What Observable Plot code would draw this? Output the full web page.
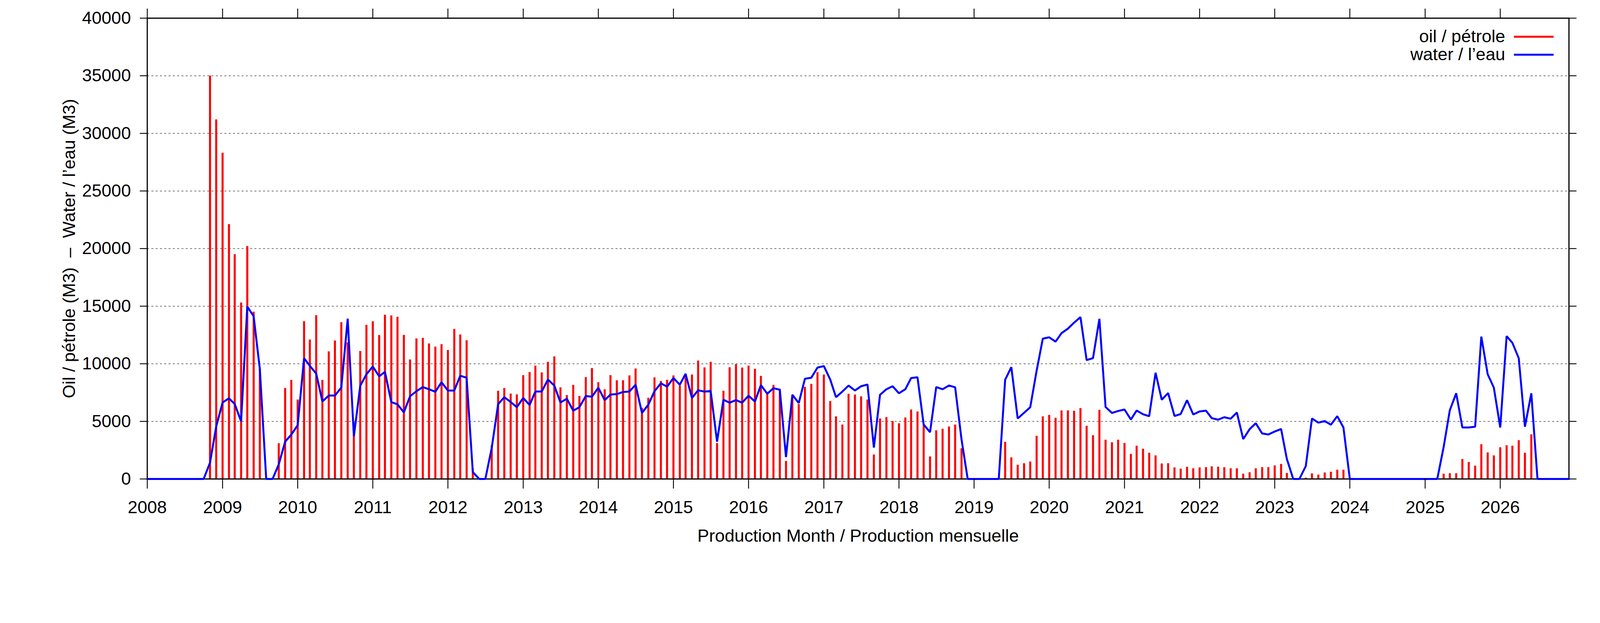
<!DOCTYPE html>
<html>
<head>
<meta charset="utf-8">
<script src="https://cdn.jsdelivr.net/npm/d3@7"></script>
<script src="https://cdn.jsdelivr.net/npm/@observablehq/plot@0.6"></script>
<style>
  html, body { margin: 0; padding: 0; background: white; overflow: hidden; }
  #chart svg { display: block; max-width: none; }
  #chart svg text { white-space: pre; }
</style>
</head>
<body>
<div id="chart"></div>
<script>
// Monthly values, starting January 2008 (12 values per row = one year)
const firstMonth = "2008-01";
const oil = [
  0,0,0,0,0,0,0,0,0,0,35000,31200,                                // 2008
  28300,22100,19500,15300,20200,14500,9550,0,0,3090,7880,8580,     // 2009
  6880,13670,12090,14210,8580,11060,12000,13600,11850,4900,11090,13360, // 2010
  13670,12480,14240,14180,14060,12490,10360,12190,12230,11750,11480,11690, // 2011
  11180,13010,12530,12030,900,0,0,2900,7640,7880,7400,7330,        // 2012
  9000,9270,9820,9240,10150,10630,7940,7270,8150,7200,8830,9610,   // 2013
  8390,7770,9000,8550,8550,8970,9580,6160,7030,8800,8490,8590,     // 2014
  8970,8110,9130,9050,10260,9670,10150,3100,7640,9690,9950,9650,   // 2015
  9820,9540,8930,7530,8150,7810,1550,7070,6490,7980,8240,9260,     // 2016
  9050,6750,5420,4710,7380,7310,7160,6880,2110,5230,5360,5020,     // 2017
  4820,5320,6010,5840,4690,1940,4210,4340,4540,4710,2650,0,        // 2018
  0,0,0,0,0,3210,1860,1220,1350,1500,3730,5420,                    // 2019
  5550,5290,5940,5940,5900,6140,4600,3780,5990,3390,3170,3390,     // 2020
  3110,2160,2870,2610,2260,2030,1330,1350,990,880,1040,910,        // 2021
  990,1010,1080,1050,1010,910,910,440,570,910,1010,1010,           // 2022
  1160,1290,510,0,0,100,470,360,550,610,790,790,                   // 2023
  0,0,0,0,0,0,0,0,0,0,0,0,                                         // 2024
  0,0,0,440,490,490,1720,1460,1140,3000,2290,2030,                 // 2025
  2740,2910,2870,3350,2260,3860,0,0,0,0,0,0                        // 2026
];
const water = [
  0,0,0,0,0,0,0,0,0,0,1420,4550,                                   // 2008
  6640,7000,6510,5000,14970,14120,9550,0,0,1270,3240,3850,         // 2009
  4670,10480,9820,9150,6730,7240,7240,7940,13910,3700,8090,9090,   // 2010
  9760,8910,9300,6670,6480,5780,7180,7620,7980,7790,7570,8400,     // 2011
  7680,7680,8960,8790,600,0,0,2700,6490,7100,6680,6230,            // 2012
  7030,6420,7590,7590,8630,8110,6640,6970,5930,6230,7200,7140,     // 2013
  7920,6840,7330,7370,7550,7590,8180,5730,6450,7620,8310,8010,     // 2014
  8760,8180,9130,7030,7700,7580,7640,3240,6880,6620,6850,6620,     // 2015
  7230,6720,8150,7400,7880,7750,1900,7310,6590,8700,8790,9670,     // 2016
  9800,8630,7100,7590,8110,7680,8050,8200,2720,7310,7790,8050,     // 2017
  7440,7790,8760,8830,4730,4060,7980,7790,8110,7960,3430,0,        // 2018
  0,0,0,0,0,8610,9710,5250,5750,6230,9400,12180,                   // 2019
  12300,11920,12660,13050,13570,14050,10320,10490,13900,6250,5730,5900, // 2020
  6030,5160,5940,5620,5450,9220,6880,7460,5470,5640,6840,5600,     // 2021
  5860,5930,5280,5150,5360,5230,5770,3460,4320,4840,3950,3860,     // 2022
  4120,4340,1740,0,0,1120,5250,4890,5030,4710,5450,4470,           // 2023
  0,0,0,0,0,0,0,0,0,0,0,0,                                         // 2024
  0,0,0,2780,5970,7440,4470,4470,4540,12360,9090,7920,             // 2025
  4470,12400,11820,10480,4540,7440,0,0,0,0,0,0                     // 2026
];
const yearTicks = [2008,2009,2010,2011,2012,2013,2014,2015,2016,2017,2018,2019,2020,2021,2022,2023,2024,2025,2026];
const yTicks = [0,5000,10000,15000,20000,25000,30000,35000,40000];
const gridTicks = [5000,10000,15000,20000,25000,30000,35000];
const seriesNames = ["oil / pétrole", "water / l’eau"];
const seriesColors = ["#ff0000", "#0000ff"];
const xLabel = "Production Month / Production mensuelle";
const yLabel = "Oil / pétrole (M3)  –  Water / l’eau (M3)";

const start = d3.utcParse("%Y-%m")(firstMonth);
const rows = oil.map((o, i) => ({date: d3.utcMonth.offset(start, i), oil: o, water: water[i]}));
const xTickDates = yearTicks.map(y => new Date(Date.UTC(y, 0, 1)));

// Layout measured on the 5483×1594 reference, scaled to the actual viewport
const REF_W = 5483, REF_H = 1594;
const W = window.innerWidth || REF_W, H = window.innerHeight || REF_H;
const sx = W / REF_W, sy = H / REF_H, s = Math.min(sx, sy);
const mL = 504 * sx, mR = 107 * sx, mT = 46 * sy, mB = 369 * sy;
const fs = 45 * sy;
const font = "'Liberation Sans', Arial, Helvetica, sans-serif";

const chart = Plot.plot({
  width: W,
  height: H,
  marginLeft: mL,
  marginRight: mR,
  marginTop: mT,
  marginBottom: mB,
  style: {fontFamily: font, fontSize: fs + "px", color: "black", background: "white", overflow: "visible"},
  x: {type: "utc", domain: [new Date(Date.UTC(2008,0,1)), new Date(Date.UTC(2026,11,1))]},
  y: {domain: [0, 40000]},
  marks: [
    Plot.gridY(gridTicks, {stroke: "#333", strokeOpacity: 0.9, strokeWidth: 1.5, strokeDasharray: "5,6"}),
    Plot.ruleX(rows.filter(d => d.oil > 0), {x: "date", y1: 0, y2: "oil", stroke: seriesColors[0], strokeWidth: 7 * sx}),
    Plot.frame({stroke: "black", strokeWidth: 4 * s}),
    Plot.line(rows, {x: "date", y: "water", stroke: seriesColors[1], strokeWidth: 5 * sy, strokeLinejoin: "miter"}),
    Plot.axisY(yTicks, {anchor: "left", tickSize: 25 * sx, tickPadding: 31 * sx, strokeWidth: 3 * s, fontSize: fs, label: null, tickFormat: d => String(d)}),
    Plot.axisY(yTicks, {anchor: "right", tickSize: 25 * sx, strokeWidth: 3 * s, label: null, tickFormat: () => ""}),
    Plot.axisX(xTickDates, {anchor: "bottom", tickSize: 25 * sy, tickPadding: 31 * sy, strokeWidth: 3 * s, fontSize: fs, label: null, tickFormat: d3.utcFormat("%Y")}),
    Plot.axisX(xTickDates, {anchor: "top", tickSize: 25 * sy, strokeWidth: 3 * s, label: null, tickFormat: () => ""}),
    Plot.text([xLabel], {text: d => d, frameAnchor: "bottom", dy: 146 * sy, lineAnchor: "middle", textAnchor: "middle", fontSize: fs, fill: "black"}),
    Plot.text([yLabel], {text: d => d, frameAnchor: "left", dx: -267 * sx, rotate: -90, lineAnchor: "middle", textAnchor: "middle", fontSize: fs, fill: "black"})
  ]
});
document.getElementById("chart").appendChild(chart);

// Legend (two rows, top-right inside the frame)
const svg = d3.select(chart);
const legendRight = 5158 * sx, legendY0 = 94 * sy, legendStep = 46 * sy;
seriesNames.forEach((name, i) => {
  const y = legendY0 + i * legendStep;
  svg.append("text")
    .attr("x", legendRight).attr("y", y).attr("dy", "0.32em")
    .attr("text-anchor", "end").attr("font-size", fs).attr("font-family", font).attr("fill", "black")
    .text(name);
  svg.append("line")
    .attr("x1", 5188 * sx).attr("x2", 5324 * sx)
    .attr("y1", y).attr("y2", y)
    .attr("stroke", seriesColors[i]).attr("stroke-width", 5 * sy);
});
</script>
</body>
</html>
